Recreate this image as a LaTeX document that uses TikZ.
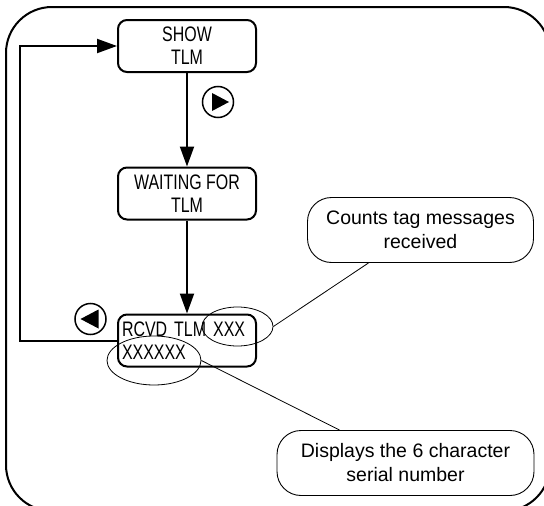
\documentclass[tikz,border=0pt]{standalone}
\usepackage{fontspec}
\setmainfont{Liberation Sans}
\newfontfamily\narrowsans[FakeStretch=0.76]{Liberation Sans}
\usepackage{tikz}
\usetikzlibrary{positioning, shapes.geometric, arrows.meta, calc}

\newcommand{\boxfont}{\narrowsans\fontsize{21}{23}\selectfont}
\newcommand{\notefont}{\fontsize{19.5}{24}\selectfont}

\begin{document}
\begin{tikzpicture}[x=1pt,y=-1pt,>={Triangle[length=20pt,width=14pt]},
  screen/.style={draw, line width=2pt, rounded corners=9pt, minimum width=138pt,
    minimum height=52pt, inner sep=0pt, align=center, font=\boxfont},
  flow/.style={->, line width=2pt},
  button/.style={draw, circle, line width=1.5pt, minimum size=31pt, inner sep=0pt},
  ring/.style={draw, ellipse, line width=0.8pt, inner sep=0pt},
  note/.style={draw, line width=0.9pt, rounded corners=24pt, minimum width=226pt,
    minimum height=65pt, inner sep=0pt, align=center, font=\notefont},
  leader/.style={line width=0.8pt}]

  \useasboundingbox (0,0) rectangle (544,506);
  % outer frame, cut by the page
  \draw[line width=2pt, rounded corners=46pt] (6,7) rectangle (550,511);

  \node[screen] (show) at (187,46) {SHOW\\TLM};
  \node[screen] (wait) at (187,193.5) {WAITING FOR\\TLM};
  \node[screen, text width=130pt, inner xsep=4pt, align=left] (rcvd) at (187,340.5)
    {RCVD TLM XXX\\XXXXXX};

  \node[button] (fwd) at (218,102) {};
  \fill ([shift={(-6,-9)}]fwd.center) -- ++(17,9) -- ++(-17,9) -- cycle;
  \node[button] (back) at (90.5,319) {};
  \fill ([shift={(8,-9.5)}]back.center) -- ++(-18,9.5) -- ++(18,9.5) -- cycle;

  \node[ring, minimum width=71pt, minimum height=39pt] (ringcount) at (237.5,326.5) {};
  \node[ring, minimum width=94pt, minimum height=49pt] (ringserial) at (154,360.5) {};

  \node[note] (countnote) at (420.5,230) {Counts tag messages\\received};
  \node[note, minimum width=257pt] (serialnote) at (405.5,463)
    {Displays the 6 character\\serial number};

  \path[flow]
    (show) edge (wait)
    (wait) edge (rcvd);
  \draw[flow] (rcvd.west) -| ([xshift=-97pt]show.west) -- (show.west);

  \draw[leader] (ringcount.east) -- ([xshift=-52pt]countnote.south);
  \draw[leader] (ringserial.east) -- ([xshift=-66pt]serialnote.north);

\end{tikzpicture}
\end{document}
